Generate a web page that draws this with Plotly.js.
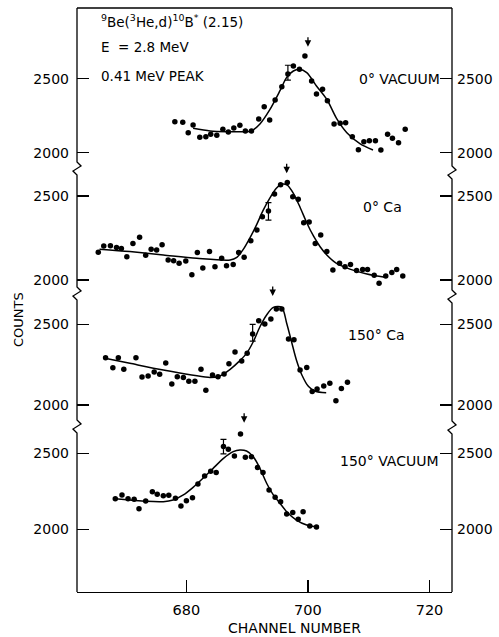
<!DOCTYPE html>
<html><head><meta charset="utf-8">
<script src="https://cdn.plot.ly/plotly-3.0.1.min.js"></script>
<style>html,body{margin:0;padding:0;background:#fff}#chart{width:499px;height:637px}</style>
</head><body><div id="chart"></div>
<script>
// ---- data (channel number, counts) ----
const panelLabels = ["0° VACUUM", "0° Ca", "150° Ca", "150° VACUUM"];
const yTicks = [2000, 2500];
const xTicks = [680, 700, 720];

const x1 = [678.1,679.4,680.3,681.1,682.2,683.2,684.0,685.0,686.0,686.9,687.8,688.8,689.7,690.7,691.9,692.8,693.7,694.6,695.7,696.7,697.6,698.6,699.5,700.6,701.4,702.4,703.2,704.3,705.3,706.2,707.3,708.3,709.2,710.1,711.1,712.0,713.1,713.9,714.9,716.0];
const y1 = [2209,2205,2135,2187,2104,2108,2124,2118,2158,2140,2167,2185,2147,2147,2228,2311,2221,2356,2446,2532,2586,2563,2653,2484,2397,2428,2351,2194,2199,2203,2108,2020,2074,2081,2081,2018,2124,2097,2068,2158];
const fitX1 = [681.1,683.9,686.6,689.4,690.7,692.1,693.7,695.4,696.5,697.6,698.6,699.8,701.4,703.1,704.7,706.4,708.6,710.7];
const fitY1 = [2165,2147,2142,2142,2147,2194,2289,2419,2509,2552,2563,2541,2451,2361,2232,2135,2059,2018];

const x2 = [665.5,666.4,667.5,668.5,669.3,670.2,671.2,672.3,673.3,674.2,675.1,676.0,677.0,677.9,678.8,679.9,680.9,681.8,682.7,683.8,684.7,685.8,686.6,687.7,688.6,689.5,690.6,691.6,692.5,693.5,694.5,695.5,696.6,697.5,698.4,699.3,700.2,701.2,702.1,703.1,704.1,705.2,706.1,707.0,708.0,709.0,709.8,710.9,711.7,712.8,713.8,714.6,715.6];
const y2 = [2165,2202,2204,2194,2188,2139,2218,2254,2147,2183,2179,2210,2119,2115,2099,2113,2032,2163,2071,2169,2079,2129,2085,2093,2163,2135,2234,2298,2377,2411,2512,2567,2581,2496,2480,2341,2345,2218,2268,2169,2060,2099,2079,2093,2056,2063,2063,2028,1980,2024,2044,2063,2024];
const fitX2 = [665.7,670.7,676.2,681.7,687.2,688.3,689.3,690.5,691.6,692.6,693.7,694.8,695.7,696.6,697.6,698.7,699.8,700.9,702.0,703.1,704.7,706.9,709.7,712.7];
const fitY2 = [2183,2169,2149,2129,2119,2135,2179,2254,2333,2413,2486,2546,2571,2565,2516,2433,2341,2262,2198,2149,2099,2065,2036,2016];

const x3 = [666.7,667.9,668.8,669.7,671.7,672.7,673.7,674.7,675.6,676.6,677.6,678.5,679.5,680.4,681.4,682.4,683.2,684.3,685.2,686.2,687.0,688.0,689.1,690.0,690.9,691.9,692.9,693.9,694.8,695.7,696.8,697.7,698.7,699.8,700.7,701.5,702.6,703.6,704.6,705.5,706.5];
const y3 = [2293,2231,2293,2221,2293,2173,2180,2204,2190,2260,2130,2175,2171,2147,2147,2221,2091,2186,2175,2192,2256,2328,2273,2320,2440,2522,2502,2533,2595,2595,2409,2405,2217,2233,2083,2099,2118,2134,2027,2103,2141];
const fitX3 = [666.6,670.7,676.2,683.9,685.5,687.2,688.8,689.9,691.0,692.1,693.2,694.3,695.7,696.5,697.3,698.1,699.0,700.1,701.2,703.0];
const fitY3 = [2289,2258,2217,2171,2180,2221,2275,2320,2392,2485,2558,2605,2605,2506,2392,2279,2186,2114,2085,2076];

const x4 = [668.3,669.4,670.4,671.4,672.2,673.3,674.4,675.2,676.2,677.1,678.2,679.1,680.0,681.0,681.9,683.0,684.0,684.9,686.1,686.9,687.9,688.9,689.7,690.7,691.7,692.6,693.6,694.6,695.5,696.5,697.5,698.4,699.2,700.3,701.4];
const y4 = [2201,2226,2201,2197,2136,2186,2247,2230,2221,2224,2204,2153,2188,2208,2298,2351,2382,2373,2544,2526,2482,2627,2474,2478,2406,2373,2259,2211,2182,2101,2110,2066,2116,2022,2015];
const fitX4 = [668.3,670.7,673.4,676.2,677.8,679.5,681.1,682.8,684.4,686.1,687.7,688.8,689.9,691.0,692.1,693.2,694.3,695.4,696.5,698.1,699.8,701.2];
const fitY4 = [2201,2193,2184,2182,2193,2226,2276,2339,2401,2467,2511,2522,2515,2478,2401,2303,2226,2171,2116,2061,2028,2017];

// representative error bars
const errX = [696.7, 693.5, 690.9, 686.1];
const errY = [2541, 2408, 2448, 2544];
const errSize = [50, 52, 52, 48];

// peak arrows (channel, counts at arrow tip)
const arrowX = [700.0, 696.5, 694.2, 689.5];
const arrowY = [2716, 2635, 2675, 2701];

// ---- layout geometry ----
const W = 499, H = 637, ML = 77, MR = 47, MT = 8, MB = 45;
const PH = H - MT - MB, PW = W - ML - MR;
const py = p => (H - MB - p) / PH;      // pixel row -> paper y
const px = p => (p - ML) / PW;          // pixel col -> paper x
const FONT = 'DejaVu Sans';

const domains = [[py(168), 1], [py(294), py(160)], [py(422), py(290)], [0, py(414)]];
const ranges = [[1896.6, 2977.7], [1916.7, 2714.3], [1894.7, 2712.5], [1587.5, 2758.6]];

const XS = [x1, x2, x3, x4], YS = [y1, y2, y3, y4];
const FX = [fitX1, fitX2, fitX3, fitX4], FY = [fitY1, fitY2, fitY3, fitY4];

const yid = n => n === 1 ? 'y' : 'y' + n;
const ykey = n => n === 1 ? 'yaxis' : 'yaxis' + n;

const traces = [];
const layout = {
  width: W, height: H,
  margin: {l: ML, r: MR, t: MT, b: MB, pad: 0},
  paper_bgcolor: '#fff', plot_bgcolor: 'rgba(0,0,0,0)',
  showlegend: false,
  font: {family: FONT, color: '#000', size: 14},
  xaxis: {
    range: [662, 723.7], tickvals: xTicks, ticks: 'inside', ticklen: 12, tickwidth: 1.3, tickcolor: '#000',
    showline: true, linewidth: 1.3, linecolor: '#000', anchor: 'y4', showgrid: false, zeroline: false,
    tickfont: {family: FONT, size: 14.5, color: '#000'}, ticklabelstandoff: 4
  },
  shapes: [], annotations: []
};

for (let i = 0; i < 4; i++) {
  const n = i + 1, nr = i + 5;
  traces.push({x: XS[i], y: YS[i], type: 'scatter', mode: 'markers', xaxis: 'x', yaxis: yid(n),
    marker: {color: '#000', size: 5.5}, hoverinfo: 'skip'});
  traces.push({x: [errX[i]], y: [errY[i]], type: 'scatter', mode: 'markers', xaxis: 'x', yaxis: yid(n),
    marker: {color: 'rgba(0,0,0,0)', size: 1},
    error_y: {type: 'data', array: [errSize[i]], visible: true, color: '#000', thickness: 1.2, width: 3},
    hoverinfo: 'skip'});
  traces.push({x: FX[i], y: FY[i], type: 'scatter', mode: 'lines', xaxis: 'x', yaxis: yid(nr),
    line: {color: '#000', width: 1.5, shape: 'spline', smoothing: 0.8}, hoverinfo: 'skip'});

  const common = {
    domain: domains[i], range: ranges[i], tickvals: yTicks, ticks: 'inside', ticklen: 12, tickwidth: 1.3,
    tickcolor: '#000', showgrid: false, zeroline: false, showline: false, anchor: 'x',
    tickfont: {family: FONT, size: 14, color: '#000'}, ticklabelstandoff: 7
  };
  layout[ykey(n)] = Object.assign({}, common, {side: 'left'});
  layout[ykey(nr)] = Object.assign({}, common, {side: 'right', overlaying: yid(n), ticklabelstandoff: 4});

  layout.annotations.push({x: arrowX[i], y: arrowY[i], xref: 'x', yref: yid(n), text: '',
    showarrow: true, arrowhead: 2, arrowsize: 1, arrowwidth: 1.3, arrowcolor: '#000',
    ax: 0, ay: -11, standoff: 0});
}

// panel labels
layout.annotations.push({x: px(442), y: 2500, xref: 'paper', yref: 'y', text: panelLabels[0], showarrow: false,
  xanchor: 'right', yanchor: 'middle', font: {family: FONT, size: 14}});
layout.annotations.push({x: px(361), y: 2436, xref: 'paper', yref: 'y2', text: panelLabels[1], showarrow: false,
  xanchor: 'left', yanchor: 'middle', font: {family: FONT, size: 14}});
layout.annotations.push({x: px(346), y: 2434, xref: 'paper', yref: 'y3', text: panelLabels[2], showarrow: false,
  xanchor: 'left', yanchor: 'middle', font: {family: FONT, size: 14}});
layout.annotations.push({x: px(441), y: 2451, xref: 'paper', yref: 'y4', text: panelLabels[3], showarrow: false,
  xanchor: 'right', yanchor: 'middle', font: {family: FONT, size: 14}});

// header text
layout.annotations.push({x: px(99), y: py(21), xref: 'paper', yref: 'paper',
  text: '<sup>9</sup>Be(<sup>3</sup>He,d)<sup>10</sup>B<sup>*</sup> (2.15)', showarrow: false,
  xanchor: 'left', yanchor: 'middle', font: {family: FONT, size: 13.5}});
layout.annotations.push({x: px(99), y: py(47), xref: 'paper', yref: 'paper', text: 'E  = 2.8 MeV', showarrow: false,
  xanchor: 'left', yanchor: 'middle', font: {family: FONT, size: 13.5}});
layout.annotations.push({x: px(99), y: py(76), xref: 'paper', yref: 'paper', text: '0.41 MeV PEAK', showarrow: false,
  xanchor: 'left', yanchor: 'middle', font: {family: FONT, size: 13.5}});

// axis titles
layout.annotations.push({x: px(18), y: py(320), xref: 'paper', yref: 'paper', text: 'COUNTS', showarrow: false,
  textangle: -90, xanchor: 'center', yanchor: 'middle', font: {family: FONT, size: 13}});
layout.annotations.push({x: px(294), y: py(628), xref: 'paper', yref: 'paper', text: 'CHANNEL NUMBER', showarrow: false,
  xanchor: 'center', yanchor: 'middle', font: {family: FONT, size: 14}});

// frame with axis breaks
function framePath(xp, breaks) {
  const dx = 4 / PW;
  let d = `M ${xp} 1`;
  breaks.forEach(([a, b]) => {
    d += ` L ${xp} ${py(a)} L ${xp + dx} ${py(a + 4)} L ${xp - dx} ${py(b - 4)} L ${xp} ${py(b)}`;
  });
  return d + ` L ${xp} 0`;
}
layout.shapes.push({type: 'path', xref: 'paper', yref: 'paper', path: framePath(0, [[162, 175], [287, 300], [420, 433]]),
  line: {color: '#000', width: 1.3}});
layout.shapes.push({type: 'path', xref: 'paper', yref: 'paper', path: framePath(1, [[166, 179], [290, 303], [421, 434]]),
  line: {color: '#000', width: 1.3}});
layout.shapes.push({type: 'line', xref: 'paper', yref: 'paper', x0: 0, x1: 1, y0: 1, y1: 1,
  line: {color: '#000', width: 1.3}});

Plotly.newPlot('chart', traces, layout, {displayModeBar: false, staticPlot: true});
</script>
</body></html>
